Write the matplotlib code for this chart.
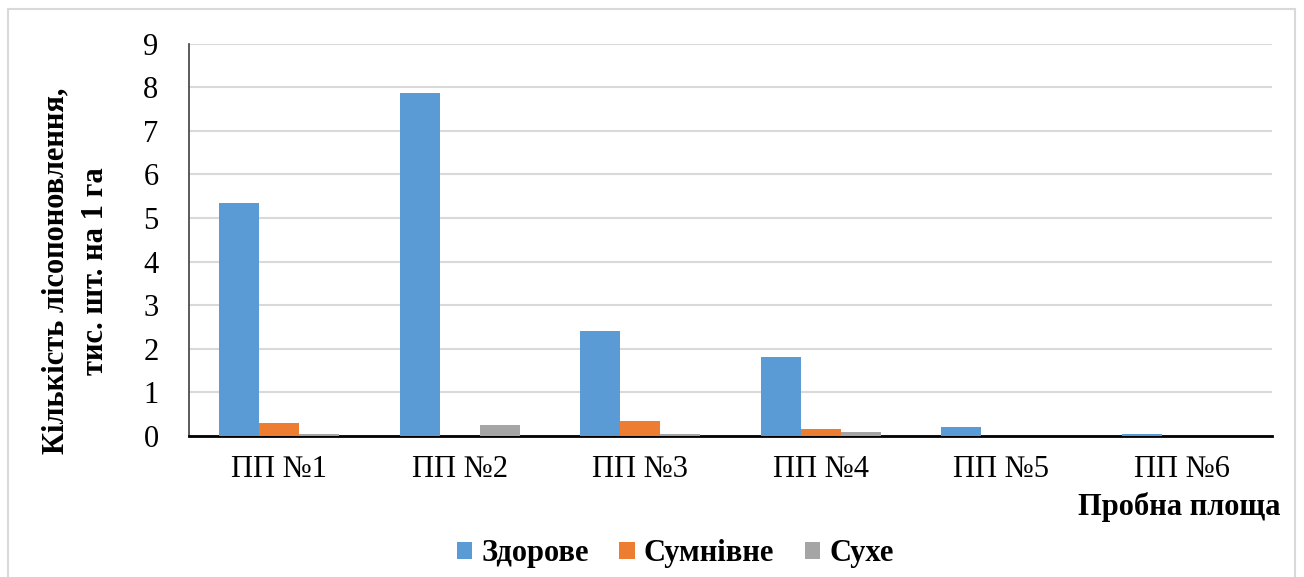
import numpy as np
import matplotlib.pyplot as plt
from matplotlib.patches import Rectangle

plt.rcParams['font.family'] = ['Liberation Serif', 'DejaVu Serif']

# щільність підросту за пробними площами, тис. шт./га
plots = ['ПП №1', 'ПП №2', 'ПП №3', 'ПП №4', 'ПП №5', 'ПП №6']
healthy = [5.35, 7.87, 2.41, 1.81, 0.2, 0.05]
doubtful = [0.3, 0.0, 0.34, 0.15, 0.0, 0.0]
dry = [0.04, 0.25, 0.04, 0.1, 0.0, 0.0]

series = [('Здорове', healthy, '#5B9BD5'),
          ('Сумнівне', doubtful, '#ED7D31'),
          ('Сухе', dry, '#A5A5A5')]

fig = plt.figure(figsize=(13.04, 5.77), dpi=100)
ax = fig.add_axes([0.145, 0.2444, 0.8305, 0.6802])

x = np.arange(len(plots))
w = 0.222
for i, (name, vals, col) in enumerate(series):
    ax.bar(x + (i - 1) * w, vals, width=w, color=col, label=name, zorder=3)

ax.set_xlim(-0.5, len(plots) - 0.5)
ax.set_ylim(0, 9)
ax.set_yticks(range(10))
ax.set_xticks(x)
ax.set_xticklabels(plots)
ax.yaxis.grid(True, color='#D9D9D9', linewidth=1.5, zorder=0)
ax.tick_params(axis='y', length=0, labelsize=22, pad=22)
ax.tick_params(axis='x', length=0, labelsize=22, pad=14)

for s in ['top', 'right']:
    ax.spines[s].set_visible(False)
ax.spines['left'].set_color('#404040')
ax.spines['left'].set_linewidth(1.2)
ax.spines['bottom'].set_color('black')
ax.spines['bottom'].set_linewidth(2)

ax.set_ylabel('Кількість лісопоновлення,\nтис. шт. на 1 га', fontsize=22,
              fontweight='bold', labelpad=24, linespacing=1.5)
ax.yaxis.label.set_y(0.42)
fig.text(0.982, 0.122, 'Пробна площа', ha='right', va='center',
         fontsize=22, fontweight='bold')

ax.legend(loc='center', bbox_to_anchor=(0.449, -0.30), ncol=3, frameon=False,
          prop={'size': 22, 'weight': 'bold'}, handlelength=0.5,
          handleheight=0.5, handletextpad=0.3, columnspacing=1.0)

fig.patches.append(Rectangle((0.006, -0.01), 0.987, 0.995, transform=fig.transFigure,
                             fill=False, edgecolor='#D9D9D9', linewidth=1.5))

fig.savefig('out.png', dpi=100)
